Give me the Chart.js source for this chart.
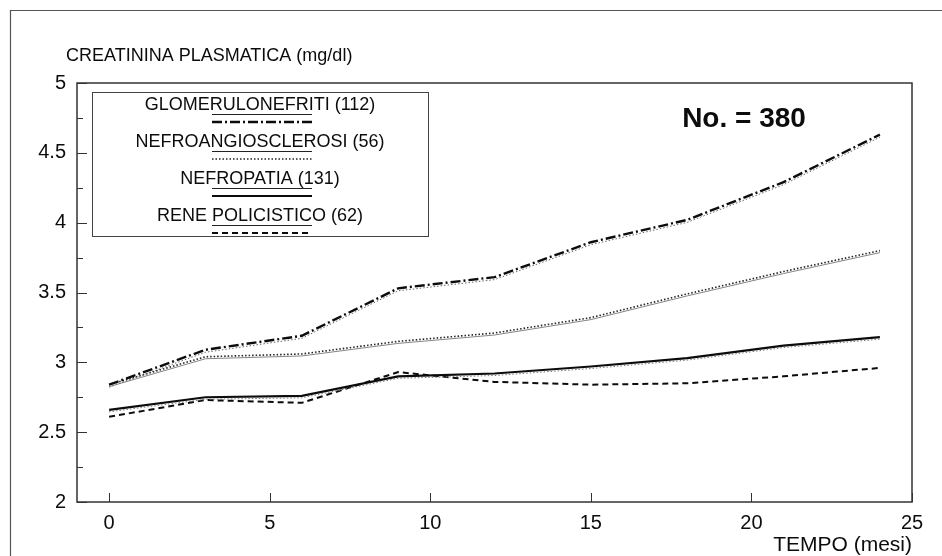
<!DOCTYPE html>
<html>
<head>
<meta charset="utf-8">
<title>Creatinina plasmatica</title>
<script src="https://cdn.jsdelivr.net/npm/chart.js@4.4.1/dist/chart.umd.min.js"></script>
<style>
  html, body { margin: 0; padding: 0; background: #fff; }
</style>
</head>
<body>
<canvas id="chart" width="942" height="556"></canvas>
<script>
// months of follow-up
const months = [0, 3, 6, 9, 12, 15, 18, 21, 24];

// mean plasma creatinine (mg/dl) per group
const glomerulonefriti = [2.84, 3.09, 3.19, 3.53, 3.61, 3.86, 4.02, 4.29, 4.63];
const nefroangiosclerosi = [2.84, 3.04, 3.06, 3.15, 3.21, 3.32, 3.49, 3.65, 3.80];
const nefropatia = [2.66, 2.75, 2.76, 2.90, 2.92, 2.97, 3.03, 3.12, 3.18];
const renePolicistico = [2.61, 2.73, 2.71, 2.93, 2.86, 2.84, 2.85, 2.90, 2.96];

const seriesNames = ['GLOMERULONEFRITI (112)', 'NEFROANGIOSCLEROSI (56)', 'NEFROPATIA (131)', 'RENE POLICISTICO (62)'];
const xTickValues = [0, 5, 10, 15, 20, 25];
const yTickValues = [2, 2.25, 2.5, 2.75, 3, 3.25, 3.5, 3.75, 4, 4.25, 4.5, 4.75, 5];
const yLabels = [2, 2.5, 3, 3.5, 4, 4.5, 5];

const yTitle = 'CREATININA PLASMATICA (mg/dl)';
const xTitle = 'TEMPO (mesi)';
const countLabel = 'No. = 380';

const INK = '#0c0c0c';
const FONT = "'Liberation Sans', Arial, Helvetica, sans-serif";

const toXY = vals => vals.map((v, i) => ({ x: months[i], y: v }));

// frame, inward ticks, legend box and free text
const decor = {
  id: 'decor',
  beforeDraw(chart) {
    const { ctx, width, height } = chart;
    ctx.save();
    ctx.fillStyle = '#fff';
    ctx.fillRect(0, 0, width, height);
    ctx.strokeStyle = '#555';
    ctx.lineWidth = 1.2;
    ctx.beginPath();
    ctx.moveTo(10.5, height);
    ctx.lineTo(10.5, 10.5);
    ctx.lineTo(width, 10.5);
    ctx.stroke();
    ctx.restore();
  },
  afterDatasetsDraw(chart) {
    // faint companion traces printed alongside the curves
    const { ctx, chartArea: a } = chart;
    ctx.save();
    ctx.beginPath();
    ctx.rect(a.left, a.top, a.right - a.left, a.bottom - a.top);
    ctx.clip();
    chart.data.datasets.forEach((ds, i) => {
      if (!ds.twin) return;
      const pts = chart.getDatasetMeta(i).data;
      ctx.strokeStyle = ds.twin.color;
      ctx.lineWidth = ds.twin.width;
      ctx.setLineDash(ds.twin.dash);
      ctx.beginPath();
      pts.forEach((p, k) => {
        const y = p.y + ds.twin.dy;
        k ? ctx.lineTo(p.x, y) : ctx.moveTo(p.x, y);
      });
      ctx.stroke();
    });
    ctx.restore();
  },
  afterDraw(chart) {
    const { ctx, chartArea: a, scales } = chart;
    ctx.save();

    // plot border
    ctx.strokeStyle = '#333';
    ctx.lineWidth = 1.5;
    ctx.strokeRect(a.left, a.top, a.right - a.left, a.bottom - a.top);

    // inward ticks
    ctx.lineWidth = 1;
    ctx.beginPath();
    scales.y.ticks.forEach(t => {
      const y = Math.round(scales.y.getPixelForValue(t.value)) + 0.5;
      const len = yLabels.includes(t.value) ? 10 : 6;
      ctx.moveTo(a.left, y);
      ctx.lineTo(a.left + len, y);
    });
    scales.x.ticks.forEach(t => {
      const x = Math.round(scales.x.getPixelForValue(t.value)) + 0.5;
      ctx.moveTo(x, a.bottom);
      ctx.lineTo(x, a.bottom - 9);
    });
    ctx.stroke();

    // axis title on top
    ctx.fillStyle = INK;
    ctx.font = `18px ${FONT}`;
    ctx.textAlign = 'left';
    ctx.textBaseline = 'middle';
    ctx.fillText(yTitle, 66, 56);

    // count
    ctx.font = `bold 28px ${FONT}`;
    ctx.textAlign = 'center';
    ctx.fillText(countLabel, 744, 119);

    // legend
    const box = { left: 92, top: 92, right: 428, bottom: 236 };
    ctx.strokeStyle = '#444';
    ctx.lineWidth = 1;
    ctx.strokeRect(box.left + 0.5, box.top + 0.5, box.right - box.left, box.bottom - box.top);
    const rowY = [105, 142, 179, 216];
    const cx = (box.left + box.right) / 2;
    ctx.font = `18px ${FONT}`;
    chart.data.datasets.forEach((ds, i) => {
      ctx.fillStyle = INK;
      ctx.textAlign = 'center';
      ctx.fillText(seriesNames[i], cx, rowY[i]);
      ctx.strokeStyle = '#222';
      ctx.setLineDash([]);
      ctx.lineWidth = 1;
      ctx.beginPath();
      ctx.moveTo(212, rowY[i] + 9.5);
      ctx.lineTo(312, rowY[i] + 9.5);
      ctx.stroke();
      ctx.strokeStyle = ds.borderColor;
      ctx.lineWidth = ds.borderWidth;
      ctx.setLineDash(ds.borderDash || []);
      ctx.beginPath();
      ctx.moveTo(212, rowY[i] + 17);
      ctx.lineTo(312, rowY[i] + 17);
      ctx.stroke();
    });
    ctx.restore();
  }
};

new Chart(document.getElementById('chart'), {
  type: 'line',
  data: {
    datasets: [
      {
        label: seriesNames[0], data: toXY(glomerulonefriti),
        borderColor: INK, borderWidth: 2.4, borderDash: [10, 3, 2, 3],
        twin: { color: '#666', width: 1, dash: [1.5, 2], dy: 2.5 },
      },
      {
        label: seriesNames[1], data: toXY(nefroangiosclerosi),
        borderColor: '#222', borderWidth: 1.6, borderDash: [1.5, 2],
        twin: { color: '#777', width: 0.9, dash: [], dy: 2 },
      },
      {
        label: seriesNames[2], data: toXY(nefropatia),
        borderColor: INK, borderWidth: 2.2,
        twin: { color: '#777', width: 1, dash: [1.5, 2], dy: 2 },
      },
      {
        label: seriesNames[3], data: toXY(renePolicistico),
        borderColor: INK, borderWidth: 2, borderDash: [6, 4],
      },
    ],
  },
  options: {
    responsive: false,
    animation: false,
    events: [],
    elements: { point: { radius: 0 }, line: { tension: 0, fill: false } },
    layout: { padding: { top: 83, right: 30, left: 0, bottom: 0 } },
    plugins: { legend: { display: false }, tooltip: { enabled: false }, title: { display: false } },
    scales: {
      x: {
        type: 'linear', min: -1, max: 25,
        afterBuildTicks: s => { s.ticks = xTickValues.map(v => ({ value: v })); },
        afterFit: s => { s.height = 54; },
        grid: { display: false, drawTicks: false },
        border: { display: false },
        ticks: { color: INK, padding: 9, font: { family: FONT, size: 20 }, maxRotation: 0, autoSkip: false },
        title: {
          display: true, text: xTitle, align: 'end', color: INK,
          font: { family: FONT, size: 21, lineHeight: 1 }, padding: 0,
        },
      },
      y: {
        type: 'linear', min: 2, max: 5,
        afterBuildTicks: s => { s.ticks = yTickValues.map(v => ({ value: v })); },
        afterFit: s => { s.width = 77; },
        grid: { display: false, drawTicks: false },
        border: { display: false },
        ticks: {
          color: INK, padding: 11, autoSkip: false,
          font: { family: FONT, size: 20 },
          callback: v => yLabels.includes(v) ? String(v) : '',
        },
      },
    },
  },
  plugins: [decor],
});
</script>
</body>
</html>
